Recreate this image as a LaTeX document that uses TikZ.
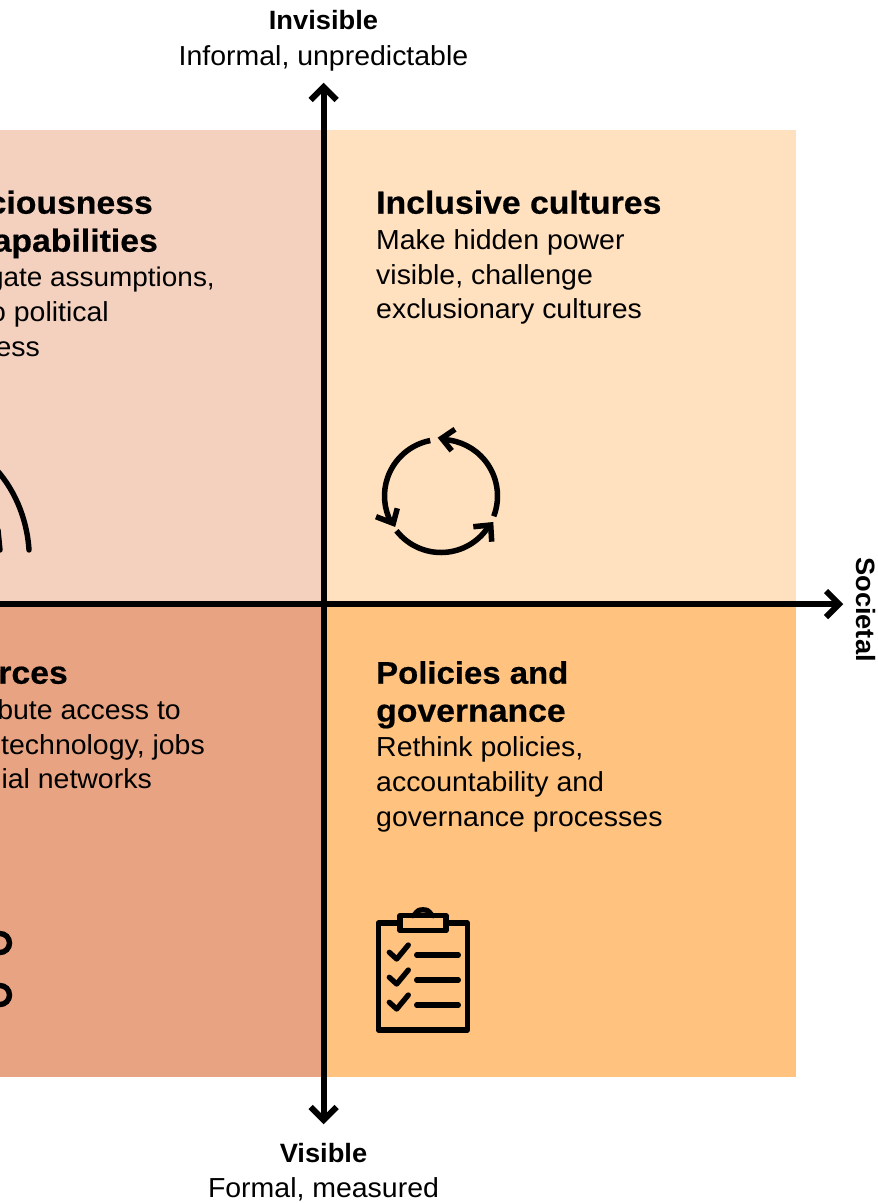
\documentclass[tikz,border=0pt]{standalone}
\usepackage{fontspec}
\setmainfont{Liberation Sans}
\newfontfamily\bodyf{Liberation Sans}[FakeStretch=1.035]
\newfontfamily\headf{Liberation Sans Bold}[FakeStretch=1.055,FakeBold=0.5]
\newfontfamily\axbf{Liberation Sans Bold}[FakeStretch=1.03]
\definecolor{tl}{HTML}{F4D1BF}
\definecolor{tr}{HTML}{FFE0BF}
\definecolor{bl}{HTML}{E8A482}
\definecolor{br}{HTML}{FFC27F}
\tikzset{
 heading/.style={anchor=base west,inner sep=0,font=\fontsize{32}{32}\selectfont\headf},
 body/.style={anchor=base west,inner sep=0,font=\fontsize{27.5}{27.5}\selectfont\bodyf},
 headingr/.style={heading,anchor=base east},
 bodyr/.style={body,anchor=base east},
 axlabb/.style={anchor=base,inner sep=0,font=\fontsize{26.5}{26.5}\selectfont\axbf},
 axlab/.style={anchor=base,inner sep=0,font=\fontsize{27.5}{27.5}\selectfont\bodyf},
 axis/.style={line width=6pt},
 axhead/.style={line width=6pt,miter limit=10},
 icon/.style={line width=5.5pt},
 iconr/.style={line width=5.3pt,line cap=round,line join=round},
}
\begin{document}
\begin{tikzpicture}[x=1pt,y=-1pt]
\useasboundingbox (0,0) rectangle (878,1203);
\clip (0,0) rectangle (878,1203);
\fill[tl] (0,130) rectangle (324,604);
\fill[tr] (324,130) rectangle (796,604);
\fill[bl] (0,604) rectangle (324,1077);
\fill[br] (324,604) rectangle (796,1077);
\coordinate (vs) at (323.7,1120); \coordinate (ve) at (323.7,87);
\coordinate (hs) at (0,604); \coordinate (he) at (839,604);
\draw[axis] (vs) -- (ve);
\draw[axis] (hs) -- (he);
\draw[axhead] ([shift={(-13,13)}]ve) -- (ve) -- ([shift={(13,13)}]ve);
\draw[axhead] ([shift={(-13,-13)}]vs) -- (vs) -- ([shift={(13,-13)}]vs);
\draw[axhead] ([shift={(-13,-13)}]he) -- (he) -- ([shift={(-13,13)}]he);
\node[axlabb] (a1) at (323.5,29) {Invisible};
\node[axlab] (a2) at (323.5,65) {Informal, unpredictable};
\node[axlabb] (a3) at (323.5,1162) {Visible};
\node[axlab] (a4) at (323.5,1197) {Formal, measured};
\node[axlabb,rotate=-90] (a5) at (856,609.5) {Societal};
% top left
\node[headingr] (h1) at (153,213.7) {ciousness};
\node[headingr] (h2) at (158,251.7) {apabilities};
\node[bodyr,font=\fontsize{27}{27}\selectfont\bodyf] (t1) at (215,286) {gate assumptions,};
\node[bodyr] (t2) at (109,321) {o political};
\node[bodyr] (t3) at (40,356) {ess};
% top right
\node[heading] (h3) at (376,213.7) {Inclusive cultures};
\node[body] (t4) at (376,249) {Make hidden power};
\node[body] (t5) at (376,284) {visible, challenge};
\node[body] (t6) at (376,318) {exclusionary cultures};
% bottom left
\node[headingr] (h4) at (68,683.7) {rces};
\node[bodyr] (t7) at (181,719) {bute access to};
\node[bodyr] (t8) at (205,754) {technology, jobs};
\node[bodyr] (t9) at (152,788) {ial networks};
% bottom right
\node[heading,font=\fontsize{31.2}{31.2}\selectfont\headf] (h5) at (376,683.7) {Policies and};
\node[heading] (h6) at (376,721.7) {governance};
\node[body] (t10) at (376,756) {Rethink policies,};
\node[body] (t11) at (376,791) {accountability and};
\node[body] (t12) at (376,826) {governance processes};
% arcs top-left icon
\draw[line width=5.4pt,line cap=round] (-8,465) .. controls (14,487) and (27,518) .. (29,550);
\draw[line width=5.4pt,line cap=round] (-2,530) -- (0,550);
% circles bottom left
\draw[line width=5.4pt] (0,943) circle (9.5);
\draw[line width=5.4pt] (0,995) circle (9.5);
% cycle icon
\begin{scope}[shift={(441,496)},x=1pt,y=1pt]
\draw[icon] (101:56.5) arc[start angle=101,end angle=207.5,radius=56.5pt];
\draw[icon] (218:56.5) arc[start angle=218,end angle=327,radius=56.5pt];
\draw[icon] (-21:56.5) arc[start angle=-21,end angle=87,radius=56.5pt];
\end{scope}
\draw[icon] (376,516.7) -- (393.3,523.3) -- (397.3,508.3);
\draw[icon] (473.3,526.7) -- (490.7,525) -- (491.7,541.7);
\draw[icon] (455,429.3) -- (441.7,438.3) -- (451.7,450.7);
% clipboard icon
\draw[iconr] (400,923) -- (378.3,923) -- (378.3,1030) -- (467.3,1030) -- (467.3,923) -- (446,923);
\draw[iconr] (400,915.7) rectangle (446,930.7);
\draw[iconr] (413,915.7) .. controls (416.5,915) and (415,909.8) .. (423,909.8) .. controls (431,909.8) and (429.5,915) .. (433,915.7);
\foreach \y in {0,25,50} {
 \draw[iconr] (389.3,\y+952.3) -- (396.7,\y+959) -- (408.3,\y+945);
 \draw[iconr] (416.7,\y+955) -- (458.3,\y+955);
}
\end{tikzpicture}
\end{document}
